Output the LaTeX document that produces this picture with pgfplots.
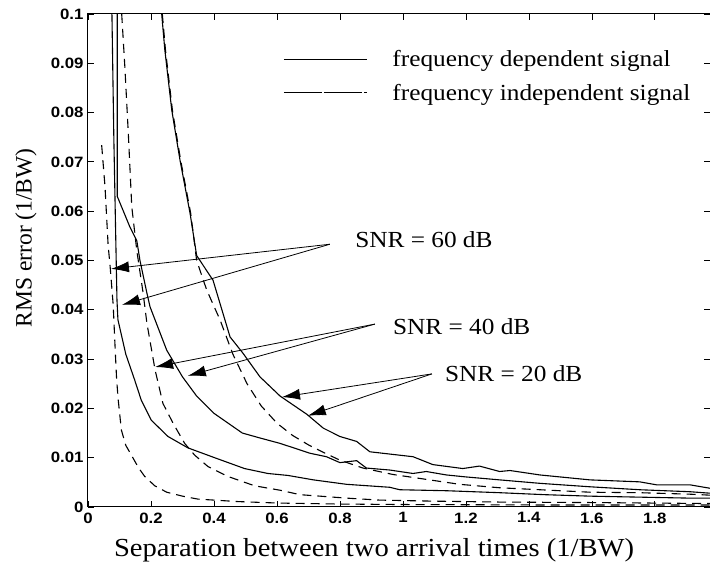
\documentclass[border=0pt]{standalone}
\usepackage{fontspec}
\setmainfont{Liberation Serif}
\newfontfamily\serifw{Liberation Serif}[FakeStretch=1.1]
\newfontfamily\tickf{Liberation Sans}[FakeStretch=1.12]
\usepackage{pgfplots}
\pgfplotsset{compat=1.18}
\usetikzlibrary{arrows.meta}
\begin{document}
\begin{tikzpicture}
\begin{axis}[
  scale only axis, width=622pt, height=493pt,
  xmin=0, xmax=1.975, ymin=0, ymax=0.1,
  xtick={0,0.2,0.4,0.6,0.8,1,1.2,1.4,1.6,1.8},
  xticklabels={0,0.2,0.4,0.6,0.8,1,1.2,1.4,1.6,1.8},
  ytick={0,0.01,0.02,0.03,0.04,0.05,0.06,0.07,0.08,0.09,0.1},
  yticklabels={0,0.01,0.02,0.03,0.04,0.05,0.06,0.07,0.08,0.09,0.1},
  tick align=inside, major tick length=6pt,
  tick style={black, line width=0.8pt},
  ticklabel style={font=\tickf\bfseries\fontsize{15}{17}\selectfont},
  xticklabel style={yshift=-2pt},
  yticklabel style={xshift=-1pt},
  axis line style={line width=1pt},
  xlabel={Separation between two arrival times (1/BW)},
  ylabel={RMS error (1/BW)},
  xlabel style={font=\serifw\fontsize{26}{30}\selectfont, at={(axis description cs:0.46,-0.0872)}, anchor=center},
  ylabel style={font=\fontsize{23.5}{28}\selectfont, at={(axis description cs:-0.0997,0.546)}, anchor=center},
  legend style={draw=none, fill=none, at={(axis cs:0.62,0.0931)}, anchor=north west,
    font=\serifw\fontsize{23}{26}\selectfont, row sep=12pt, inner sep=0pt,
    /tikz/every odd column/.append style={column sep=23pt}},
  legend cell align=left,
  legend image code/.code={\draw[#1] (0pt,0pt) -- (83pt,0pt);},
  every axis plot/.append style={black, line width=1.1pt},
]
\addlegendimage{black, line width=1pt}
\addlegendentry{frequency dependent signal}
\addlegendimage{black, line width=1pt, dash pattern=on 38pt off 2pt}
\addlegendentry{frequency independent signal}

% SNR 60 dB, frequency dependent
\addplot[forget plot] coordinates {(0.076,0.1)(0.082,0.075)(0.088,0.055)(0.092,0.042)(0.095,0.038)(0.12,0.031)(0.148,0.0258)(0.169,0.0217)(0.201,0.0176)(0.254,0.0143)(0.317,0.012)(0.402,0.010)(0.497,0.0078)(0.571,0.0068)(0.635,0.0064)(0.716,0.0055)(0.821,0.0046)(0.958,0.0040)(0.99,0.0035)(1.138,0.0033)(1.307,0.0029)(1.45,0.0025)(1.594,0.0022)(1.75,0.002)(1.911,0.0018)(1.975,0.0018)};
% SNR 60 dB, frequency independent
\addplot[forget plot, dash pattern=on 9pt off 6pt] coordinates {(0.0434,0.0734)(0.054,0.065)(0.064,0.053)(0.07,0.049)(0.08,0.041)(0.087,0.031)(0.091,0.0258)(0.096,0.0217)(0.106,0.0156)(0.12,0.0125)(0.138,0.0105)(0.16,0.008)(0.18,0.0062)(0.212,0.0043)(0.25,0.003)(0.3,0.0022)(0.349,0.0016)(0.476,0.0011)(0.603,0.0008)(0.8,0.0006)(1.0,0.0005)(1.5,0.0004)(1.975,0.0004)};
% SNR 40 dB, frequency dependent
\addplot[forget plot] coordinates {(0.093,0.1)(0.093,0.063)(0.133,0.0568)(0.155,0.054)(0.165,0.05)(0.187,0.0434)(0.197,0.0406)(0.25,0.0318)(0.30,0.0264)(0.345,0.0225)(0.40,0.019)(0.49,0.015)(0.546,0.014)(0.61,0.0129)(0.705,0.0109)(0.757,0.0102)(0.8,0.009)(0.853,0.0094)(0.884,0.0079)(0.958,0.0075)(1.032,0.0068)(1.074,0.0072)(1.138,0.0065)(1.2,0.0061)(1.307,0.0055)(1.435,0.0048)(1.594,0.0041)(1.752,0.0035)(1.911,0.0031)(1.975,0.0028)};
% SNR 40 dB, frequency independent
\addplot[forget plot, dash pattern=on 9pt off 6pt] coordinates {(0.107,0.1)(0.117,0.0893)(0.128,0.0758)(0.139,0.0609)(0.155,0.052)(0.175,0.0434)(0.187,0.0373)(0.213,0.0278)(0.238,0.021)(0.27,0.017)(0.307,0.0129)(0.339,0.0105)(0.381,0.0082)(0.444,0.0062)(0.529,0.0043)(0.61,0.0034)(0.673,0.0025)(0.821,0.0018)(0.926,0.0014)(1.085,0.0012)(1.307,0.001)(1.6,0.0009)(1.975,0.0007)};
% SNR 20 dB, frequency dependent
\addplot[forget plot] coordinates {(0.234,0.1)(0.244,0.0927)(0.266,0.0805)(0.292,0.0704)(0.324,0.0596)(0.345,0.051)(0.397,0.046)(0.451,0.0345)(0.492,0.0312)(0.546,0.0264)(0.61,0.0225)(0.695,0.0188)(0.747,0.016)(0.8,0.0143)(0.853,0.0133)(0.895,0.0112)(1.032,0.0102)(1.095,0.0086)(1.19,0.0078)(1.243,0.0083)(1.307,0.0072)(1.34,0.0074)(1.435,0.0065)(1.594,0.0055)(1.752,0.0051)(1.805,0.0045)(1.911,0.0045)(1.975,0.0038)};
% SNR 20 dB, frequency independent
\addplot[forget plot, dash pattern=on 9pt off 6pt] coordinates {(0.236,0.1)(0.246,0.0927)(0.268,0.0805)(0.294,0.0704)(0.326,0.0596)(0.345,0.05)(0.377,0.044)(0.419,0.038)(0.46,0.031)(0.505,0.025)(0.55,0.0205)(0.6,0.017)(0.65,0.0145)(0.7,0.0126)(0.75,0.011)(0.8,0.0095)(0.873,0.0079)(0.968,0.0066)(1.053,0.0058)(1.18,0.0046)(1.307,0.0039)(1.435,0.0035)(1.594,0.003)(1.752,0.0029)(1.911,0.0026)(1.975,0.0024)};

% annotations
\begin{scope}[line width=0.8pt, -{Latex[length=18pt,width=11pt]}]
\draw (axis cs:0.768,0.0533) -- (axis cs:0.073,0.0483);
\draw (axis cs:0.768,0.0533) -- (axis cs:0.108,0.041);
\draw (axis cs:0.911,0.0371) -- (axis cs:0.213,0.0284);
\draw (axis cs:0.911,0.0371) -- (axis cs:0.317,0.0266);
\draw (axis cs:1.092,0.0270) -- (axis cs:0.616,0.0223);
\draw (axis cs:1.092,0.0270) -- (axis cs:0.698,0.0185);
\end{scope}
\node[anchor=west, inner sep=0pt, font=\serifw\fontsize{23}{26}\selectfont] at (axis cs:0.848,0.0542) {SNR = 60 dB};
\node[anchor=west, inner sep=0pt, font=\serifw\fontsize{23}{26}\selectfont] at (axis cs:0.968,0.0365) {SNR = 40 dB};
\node[anchor=west, inner sep=0pt, font=\serifw\fontsize{23}{26}\selectfont] at (axis cs:1.133,0.0270) {SNR = 20 dB};
\end{axis}
\pgfresetboundingbox
\path[use as bounding box] ([xshift=-88pt,yshift=-66pt]current axis.south west) rectangle ([yshift=14pt]current axis.north east);
\end{tikzpicture}
\end{document}
